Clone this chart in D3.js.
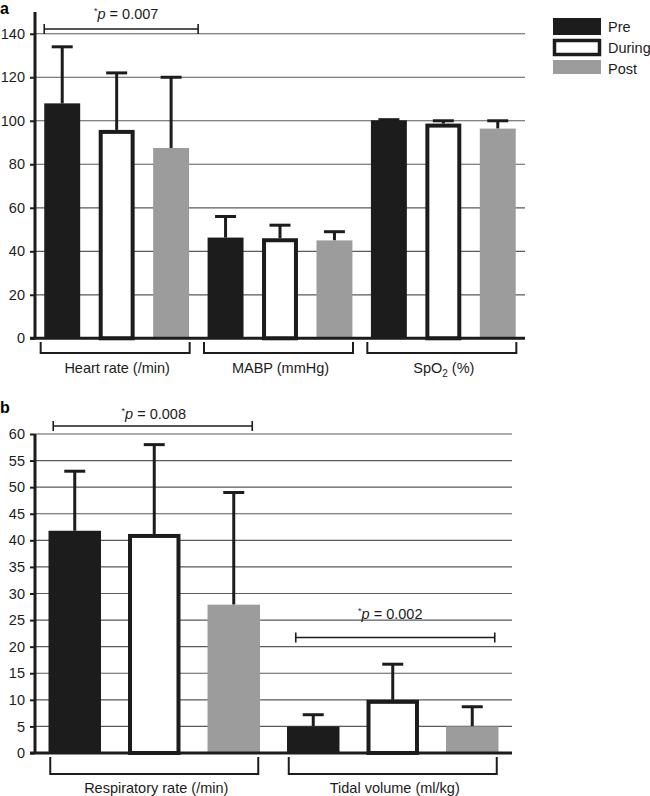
<!DOCTYPE html>
<html><head><meta charset="utf-8">
<script src="https://cdn.jsdelivr.net/npm/d3@7"></script>
<style>
body{margin:0;background:#fff;}
svg{display:block;font-family:"Liberation Sans",Arial,Helvetica,sans-serif;}
</style></head>
<body><svg id="chart" width="650" height="796"></svg>
<script>
// ---------- data ----------
const seriesNames = ["Pre", "During", "Post"];

const categoriesA = ["Heart rate (/min)", "MABP (mmHg)", "SpO2 (%)"];
const preA = [108, 46.3, 100.2];
const duringA = [95.8, 46, 98.7];
const postA = [87.5, 45, 96.4];
const preSdA = [26, 9.7, 0.3];
const duringSdA = [26.2, 6, 1.3];
const postSdA = [32.5, 4, 3.6];
const ticksA = [0, 20, 40, 60, 80, 100, 120, 140];
const maxA = 150;

const categoriesB = ["Respiratory rate (/min)", "Tidal volume (ml/kg)"];
const preB = [41.8, 5];
const duringB = [41.2, 10];
const postB = [27.9, 5];
const preSdB = [11.2, 2.2];
const duringSdB = [16.8, 6.7];
const postSdB = [21.1, 3.7];
const ticksB = [0, 5, 10, 15, 20, 25, 30, 35, 40, 45, 50, 55, 60];
const maxB = 60;

const sigLabelsA = ["0.007"];
const sigLabelsB = ["0.008", "0.002"];

// ---------- drawing ----------
const svg = d3.select("#chart");
const fill = {Pre: "#1c1c1c", During: "#ffffff", Post: "#9c9c9c"};
const ink = "#1c1c1c";

function buildRows(cats, pre, dur, post, sdPre, sdDur, sdPost) {
  return cats.map((c, i) => ({
    cat: c,
    vals: [
      {s: "Pre", v: pre[i], sd: sdPre[i]},
      {s: "During", v: dur[i], sd: sdDur[i]},
      {s: "Post", v: post[i], sd: sdPost[i]}
    ]
  }));
}

function catLabel(sel, text) {
  const m = text.match(/^(.*O)2(.*)$/);
  if (m && text.startsWith("SpO")) {
    sel.append("tspan").text(m[1]);
    sel.append("tspan").attr("font-size", "10px").attr("dy", 4).text("2");
    sel.append("tspan").attr("dy", -4).text(m[2]);
  } else sel.text(text);
}

function sigText(g, cx, baseline, val) {
  const t = g.append("text").attr("x", cx).attr("y", baseline)
    .attr("text-anchor", "middle").attr("font-size", "14.5px").attr("fill", ink);
  t.append("tspan").attr("font-size", "9px").attr("dy", -5).text("*");
  t.append("tspan").attr("font-style", "italic").attr("dy", 5).text("p");
  t.append("tspan").text(" = " + val);
}

function sigBracket(g, x0, x1, y) {
  g.append("line").attr("x1", x0).attr("x2", x1).attr("y1", y).attr("y2", y)
    .attr("stroke", ink).attr("stroke-width", 1.6);
  [x0, x1].forEach(x => g.append("line").attr("x1", x).attr("x2", x)
    .attr("y1", y - 5).attr("y2", y + 5).attr("stroke", ink).attr("stroke-width", 1.6));
}

function panel(opt) {
  const g = svg.append("g");
  const y = d3.scaleLinear().domain([0, opt.max]).range([opt.y0, opt.yTop]);
  const xg = d3.scaleBand().domain(opt.rows.map(r => r.cat)).range([opt.xLeft, opt.xRight]).padding(0);
  const xi = d3.scaleBand().domain(seriesNames).range([0, xg.bandwidth()]).padding(0);
  const bw = xi.bandwidth() * 0.66;

  // gridlines
  g.append("g").selectAll("line").data(opt.ticks.filter(t => t > 0)).join("line")
    .attr("x1", opt.xLeft).attr("x2", opt.xRight)
    .attr("y1", d => y(d)).attr("y2", d => y(d))
    .attr("stroke", "#5a5a5a").attr("stroke-width", 1.2);

  // bars
  const grp = g.append("g").selectAll("g").data(opt.rows).join("g")
    .attr("transform", d => `translate(${xg(d.cat)},0)`);
  const bar = grp.selectAll("g").data(d => d.vals).join("g");
  bar.append("line")
    .attr("x1", d => xi(d.s) + xi.bandwidth() / 2).attr("x2", d => xi(d.s) + xi.bandwidth() / 2)
    .attr("y1", d => y(d.v)).attr("y2", d => y(d.v + d.sd))
    .attr("stroke", ink).attr("stroke-width", 3);
  bar.append("line")
    .attr("x1", d => xi(d.s) + xi.bandwidth() / 2 - 10.5).attr("x2", d => xi(d.s) + xi.bandwidth() / 2 + 10.5)
    .attr("y1", d => y(d.v + d.sd)).attr("y2", d => y(d.v + d.sd))
    .attr("stroke", ink).attr("stroke-width", 3);
  bar.append("rect")
    .attr("x", d => xi(d.s) + (xi.bandwidth() - bw) / 2 + (d.s === "During" ? 2 : 0))
    .attr("width", d => bw - (d.s === "During" ? 4 : 0))
    .attr("y", d => y(d.v) + (d.s === "During" ? 2 : 0))
    .attr("height", d => y(0) - y(d.v) - (d.s === "During" ? 2 : 0))
    .attr("fill", d => fill[d.s])
    .attr("stroke", d => d.s === "During" ? ink : "none")
    .attr("stroke-width", 4);

  // axes
  const ax = d3.axisLeft(y).tickValues(opt.ticks).tickSize(5).tickPadding(5).tickFormat(d3.format("d"));
  const axg = g.append("g").attr("transform", `translate(${opt.xLeft},0)`).call(ax);
  axg.select(".domain").remove();
  axg.selectAll(".tick line").attr("stroke", ink).attr("stroke-width", 2);
  axg.selectAll(".tick text").attr("font-size", "14.5px").attr("fill", ink)
    .attr("font-family", "Liberation Sans, Arial, sans-serif");
  g.append("line").attr("x1", opt.xLeft).attr("x2", opt.xLeft)
    .attr("y1", y(opt.max)).attr("y2", y(0)).attr("stroke", ink).attr("stroke-width", 3);
  g.append("line").attr("x1", opt.xLeft - 5).attr("x2", opt.xRight)
    .attr("y1", y(0)).attr("y2", y(0)).attr("stroke", ink).attr("stroke-width", 3);

  // category brackets + labels
  opt.rows.forEach(r => {
    const c = xg(r.cat) + xg.bandwidth() / 2;
    const x0 = c + opt.brL, x1 = c + opt.brR;
    g.append("path")
      .attr("d", `M${x0},${opt.brTop}V${opt.brBot}H${x1}V${opt.brTop}`)
      .attr("fill", "none").attr("stroke", ink).attr("stroke-width", 2);
    const t = g.append("text").attr("x", (x0 + x1) / 2 + 2).attr("y", opt.labelY)
      .attr("text-anchor", "middle").attr("font-size", "14.5px").attr("fill", ink);
    catLabel(t, r.cat);
  });

  // panel letter
  g.append("text").attr("x", 0).attr("y", opt.letterY).attr("font-size", "16px")
    .attr("font-weight", "bold").attr("fill", "#000").text(opt.letter);

  return {g, y, xg, xi, bw};
}

// Panel a
const rowsA = buildRows(categoriesA, preA, duringA, postA, preSdA, duringSdA, postSdA);
const pa = panel({rows: rowsA, max: maxA, ticks: ticksA, y0: 338.3, yTop: 12,
  xLeft: 35, xRight: 525, brL: -76, brR: 73, brTop: 342, brBot: 353, labelY: 372.5,
  letter: "a", letterY: 14});
{
  const c = pa.xg(categoriesA[0]);
  const x0 = c + pa.xi("Pre") + pa.xi.bandwidth() / 2 - 18;
  const x1 = c + pa.xi("Post") + pa.xi.bandwidth() / 2 + 27;
  sigBracket(pa.g, x0, x1, 29);
  sigText(pa.g, (x0 + x1) / 2 + 5, 18.5, sigLabelsA[0]);
}

// Panel b
const rowsB = buildRows(categoriesB, preB, duringB, postB, preSdB, duringSdB, postSdB);
const pb = panel({rows: rowsB, max: maxB, ticks: ticksB, y0: 753, yTop: 434,
  xLeft: 35, xRight: 512, brL: -104, brR: 104, brTop: 757, brBot: 774, labelY: 793,
  letter: "b", letterY: 413});
{
  const c = pb.xg(categoriesB[0]);
  const x0 = c + pb.xi("Pre") + pb.xi.bandwidth() / 2 - 21.5;
  const x1 = c + pb.xi("Post") + pb.xi.bandwidth() / 2 + 18.5;
  sigBracket(pb.g, x0, x1, 426);
  sigText(pb.g, (x0 + x1) / 2 + 1, 418.5, sigLabelsB[0]);
  const c2 = pb.xg(categoriesB[1]);
  const x2 = c2 + pb.xi("Pre") + pb.xi.bandwidth() / 2 - 17.5;
  const x3 = c2 + pb.xi("Post") + pb.xi.bandwidth() / 2 + 22.5;
  sigBracket(pb.g, x2, x3, 637.5);
  sigText(pb.g, (x2 + x3) / 2 - 5, 618.5, sigLabelsB[1]);
}

// Legend
const leg = svg.append("g").attr("transform", "translate(553,18)");
seriesNames.forEach((s, i) => {
  const gy = i * 21;
  if (s === "During") {
    leg.append("rect").attr("x", 1.5).attr("y", gy + 1.5).attr("width", 45).attr("height", 14)
      .attr("fill", "#fff").attr("stroke", ink).attr("stroke-width", 3.5);
  } else {
    leg.append("rect").attr("x", 0).attr("y", gy).attr("width", 48).attr("height", i === 2 ? 14 : 17)
      .attr("fill", fill[s]);
  }
  leg.append("text").attr("x", 55).attr("y", gy + 14).attr("font-size", "14.5px")
    .attr("fill", ink).text(s);
});
</script></body></html>
